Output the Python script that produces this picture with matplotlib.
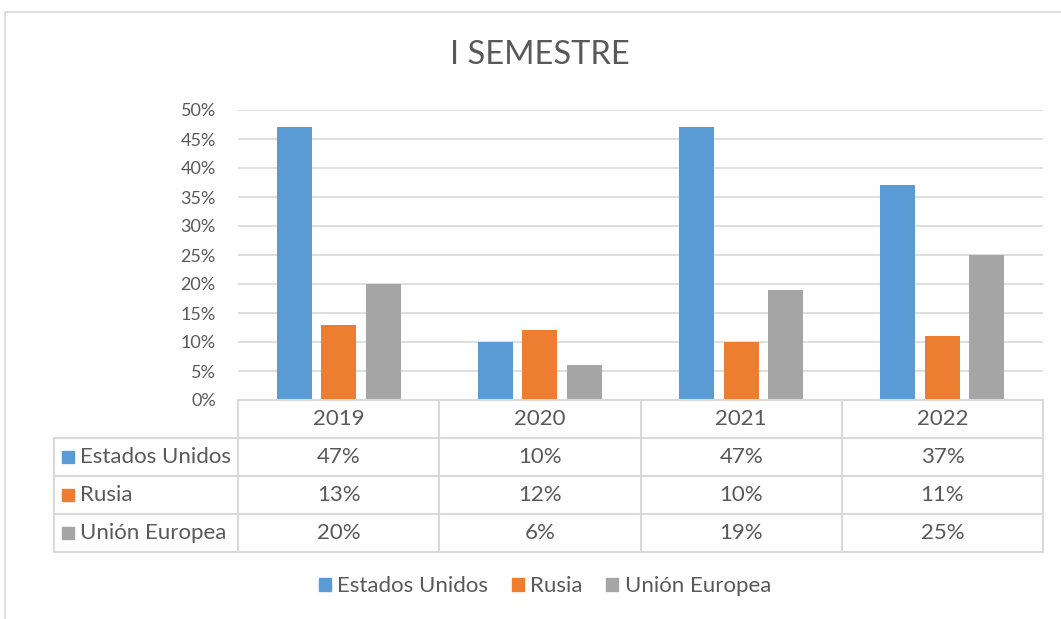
import matplotlib
matplotlib.use("Agg")
import matplotlib.pyplot as plt
from matplotlib.patches import Patch, Rectangle
from matplotlib.ticker import PercentFormatter
from matplotlib.transforms import offset_copy

plt.rcParams['font.family'] = ['Lato', 'DejaVu Sans']

years = ['2019', '2020', '2021', '2022']
series = ['Estados Unidos', 'Rusia', 'Unión Europea']
estados_unidos = [0.47, 0.10, 0.47, 0.37]
rusia = [0.13, 0.12, 0.10, 0.11]
union_europea = [0.20, 0.06, 0.19, 0.25]
values = [estados_unidos, rusia, union_europea]
colors = ['#5B9BD5', '#ED7D31', '#A5A5A5']

txt = '#595959'
grid = '#D9D9D9'
W, H = 1061, 619
fs = 16

fig = plt.figure(figsize=(W / 100, H / 100), dpi=100)

# outer chart frame
fig.patches.append(Rectangle((5 / W, -0.1), 1.2, (H - 12) / H + 0.1,
                             transform=fig.transFigure, fill=False,
                             edgecolor=grid, lw=1.2))

fig.text(540 / W, 1 - 55 / H, 'I SEMESTRE', ha='center', va='center',
         fontsize=23.5, color=txt)

# bar area
ax = fig.add_axes([238 / W, 1 - 400 / H, (1043 - 238) / W, 290 / H])
x = range(len(years))
width = 0.174
step = 0.221
for k, (name, vals) in enumerate(zip(series, values)):
    ax.bar([i + (k - 1) * step for i in x], vals, width=width,
           color=colors[k], zorder=3)
ax.set_xlim(-0.5, 3.5)
ax.set_ylim(0, 0.5)
ax.set_yticks([i * 0.05 for i in range(11)])
ax.yaxis.set_major_formatter(PercentFormatter(1.0, decimals=0))
ax.tick_params(axis='y', length=0, pad=16, labelsize=13, labelcolor=txt)
ax.set_xticks([])
ax.grid(axis='y', color=grid, lw=1.2, zorder=0)
for s in ax.spines.values():
    s.set_visible(False)

# data table
tx = fig.add_axes([54 / W, 1 - 552 / H, (1043 - 54) / W, 152 / H])
left = -0.5 - 184 / 201
tx.set_xlim(left, 3.5)
tx.set_ylim(4, 0)
tx.axis('off')
lk = dict(color=grid, lw=1.5, clip_on=False)
tx.plot([-0.5, 3.5], [0, 0], **lk)
for r in range(1, 5):
    tx.plot([left, 3.5], [r, r], **lk)
tx.plot([left, left], [1, 4], **lk)
for c in range(5):
    tx.plot([c - 0.5, c - 0.5], [0, 4], **lk)

for i, yr in enumerate(years):
    tx.text(i, 0.5, yr, ha='center', va='center', fontsize=fs, color=txt)
sq_tr = offset_copy(tx.transData, fig=fig, x=14, y=0, units='dots')
for k, (name, vals) in enumerate(zip(series, values)):
    yc = k + 1.5
    tx.plot([left], [yc], marker='s', ms=8.6, color=colors[k], lw=0,
            transform=sq_tr, clip_on=False)
    tx.annotate(name, (left, yc), xytext=(19, 0), textcoords='offset points',
                ha='left', va='center', fontsize=fs, color=txt)
    for i, v in enumerate(vals):
        tx.text(i, yc, f'{round(v * 100)}%', ha='center', va='center',
                fontsize=fs, color=txt)

handles = [Patch(color=c, label=n) for c, n in zip(colors, series)]
fig.legend(handles=handles, loc='center', bbox_to_anchor=(545 / W, 33 / H),
           ncol=3, frameon=False, fontsize=fs, labelcolor=txt,
           handlelength=0.54, handleheight=0.54, handletextpad=0.3,
           columnspacing=1.05)

fig.savefig('out.png', dpi=100)
